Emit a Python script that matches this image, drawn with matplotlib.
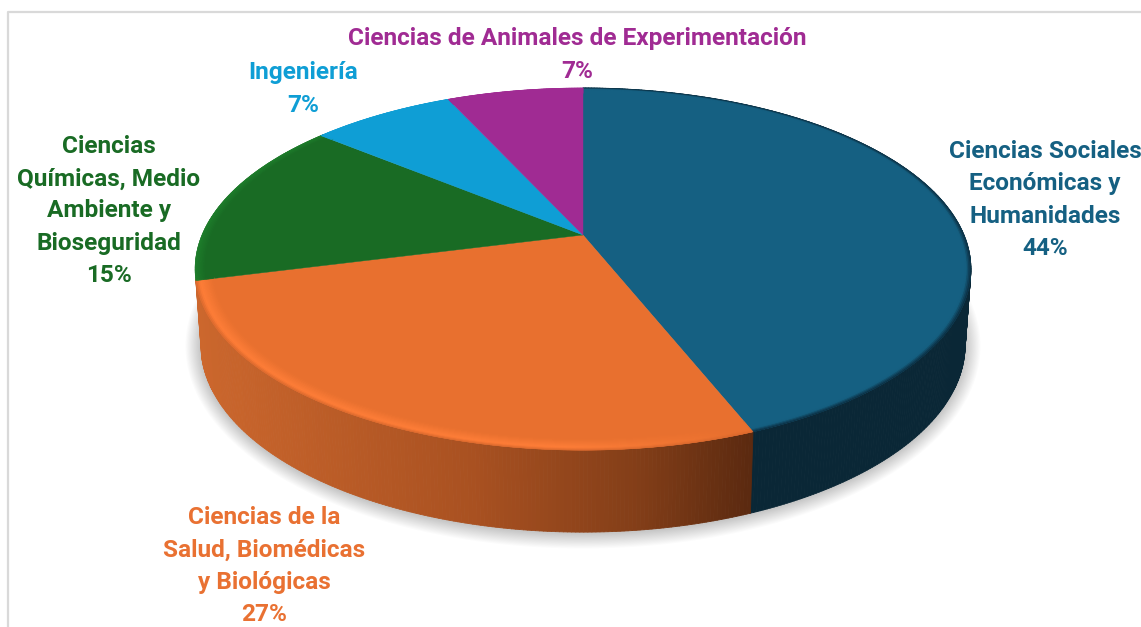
import numpy as np
import matplotlib
matplotlib.use('Agg')
import matplotlib.pyplot as plt
from matplotlib.collections import PolyCollection
from matplotlib.colors import to_rgb

# Data
labels = ['Ciencias Sociales\nEconómicas y\nHumanidades',
          'Ciencias de la\nSalud, Biomédicas\ny Biológicas',
          'Ciencias\nQuímicas, Medio\nAmbiente y\nBioseguridad',
          'Ingeniería',
          'Ciencias de Animales de Experimentación']
shares = [44.0, 27.0, 15.0, 7.2, 6.8]
colors = ['#156082', '#E8702F', '#196B24', '#0F9ED5', '#A02B93']
text_colors = ['#156082', '#E97132', '#196B24', '#0F9ED5', '#A02B93']
wall_colors = ['#0A2736', '#C9652C']

# Where each label block is centred (pixels)
label_x = [1045, 264, 109, 303, 577]
label_y = [200, 566, 211, 89, 55]


def project(deg, r=1.0):
    # tilted circle to picture pixels, deg is clockwise from the top
    t = np.radians(deg)
    u = r * np.sin(t)
    v = r * np.cos(t)
    w = 1 + 0.188 * v
    return 583 + 381 * u / w, (235 - 130.5 * v) / w


def project_bottom(deg):
    x, y = project(deg)
    return 583 + (x - 583) * 0.985, 345 + (y - 269) * 187 / 181


def mix(c1, c2, t):
    c1 = np.array(to_rgb(c1))
    c2 = np.array(to_rgb(c2))
    return tuple(c1 + (c2 - c1) * np.clip(t, 0, 1))


def orange_wall(x):
    t = (x - 197) / (750 - 197)
    if t < 0.5:
        return mix('#CC672D', '#A95121', t / 0.5)
    if t < 0.8:
        return mix('#A95121', '#833E18', (t - 0.5) / 0.3)
    return mix('#833E18', '#5C2A10', (t - 0.8) / 0.2)


edges = np.concatenate([[0], np.cumsum(shares)]) * 3.6

fig = plt.figure(figsize=(11.41, 6.27), dpi=100)
ax = fig.add_axes([0, 0, 1, 1])
ax.set_xlim(0, 1141)
ax.set_ylim(627, 0)
ax.axis('off')

# Chart frame
ax.plot([8, 8, 1141], [627, 12, 12], color='#D9D9D9', lw=1.6, zorder=1)

# Soft shadow under the pie
ring = np.linspace(0, 360, 361)
for k in range(14, 0, -1):
    bx, by = project_bottom(ring)
    bx = 583 + (bx - 583) * (1 + k * 1.1 / 382)
    by = 345 + (by - 345) * (1 + k * 1.1 / 187) + 1
    ax.fill(bx, by, color='#000000', alpha=0.016, lw=0, zorder=2)

# Side wall, one thin quad per step (only the two front slices show one)
for i in range(2):
    a = np.arange(edges[i], edges[i + 1] + 0.5, 0.5)
    tx, ty = project(a)
    bx, by = project_bottom(a)
    quads = []
    cols = []
    for j in range(len(a) - 1):
        quads.append([(tx[j], ty[j]), (tx[j + 1], ty[j + 1]),
                      (bx[j + 1], by[j + 1]), (bx[j], by[j])])
        if i == 1:
            cols.append(orange_wall(tx[j]))
        else:
            cols.append(to_rgb(wall_colors[i]))
    ax.add_collection(PolyCollection(quads, facecolors=cols, edgecolors=cols,
                                     linewidths=0.6, zorder=3))

# Top of the pie
for i in range(len(shares)):
    a = np.linspace(edges[i], edges[i + 1], 200)
    x, y = project(a)
    ax.fill(np.r_[583, x], np.r_[235, y], color=colors[i], lw=0.3, zorder=4)

# Bevel round the rim of each slice
rims = np.linspace(1.0, 0.955, 13)
for i in range(len(shares)):
    a = np.arange(edges[i], edges[i + 1] + 0.5, 0.5)
    quads = []
    cols = []
    for k in range(len(rims) - 1):
        r = (rims[k] + rims[k + 1]) / 2
        s = (1 - r) / 0.045
        x1, y1 = project(a, rims[k])
        x2, y2 = project(a, rims[k + 1])
        for j in range(len(a) - 1):
            quads.append([(x1[j], y1[j]), (x1[j + 1], y1[j + 1]),
                          (x2[j + 1], y2[j + 1]), (x2[j], y2[j])])
            if i == 0:
                cols.append(mix('#0A2A3C', colors[0], s / 0.3))
            elif i == 1:
                fade = np.clip((a[j] - 160) / 22, 0, 1)
                hi = mix(colors[1], '#FF7E38', fade)
                if s < 0.25:
                    cols.append(mix('#D9682D', hi, s / 0.25))
                else:
                    cols.append(mix(hi, colors[1], (s - 0.25) / 0.75))
            elif i == 2:
                cols.append(mix('#1E7F2C', colors[2], s / 0.6))
            else:
                cols.append(to_rgb(colors[i]))
    ax.add_collection(PolyCollection(quads, facecolors=cols, edgecolors=cols,
                                     linewidths=0.4, zorder=5))

# Data labels
for i in range(len(shares)):
    ax.text(label_x[i], label_y[i], labels[i] + '\n' + '%.0f%%' % shares[i],
            color=text_colors[i], ha='center', va='center', family='Roboto',
            weight='bold', fontsize=17.6, linespacing=1.51, zorder=6)

fig.savefig('out.png', dpi=100)
